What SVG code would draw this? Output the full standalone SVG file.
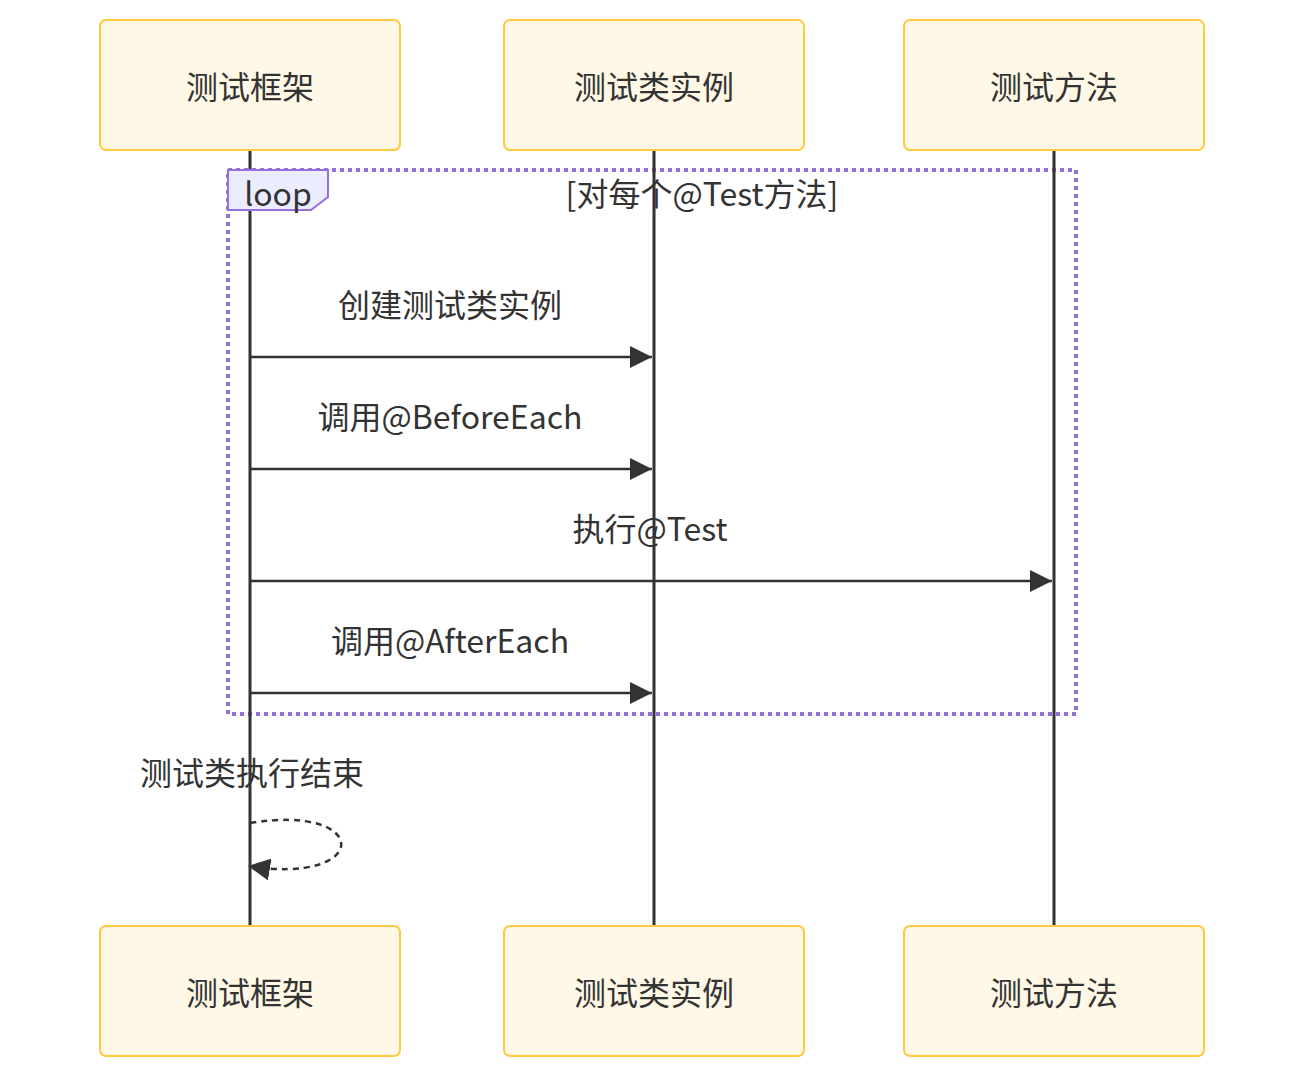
<svg xmlns="http://www.w3.org/2000/svg" width="1304" height="1078" viewBox="0 0 1304 1078">
<style>
.actor{fill:#fff8e6;stroke:#ffc940;stroke-width:2}
.lbl{font-family:"Noto Sans CJK SC","Noto Sans",sans-serif;font-size:32px;fill:#333;text-anchor:middle}
.life{stroke:#333;stroke-width:3}
.msg{stroke:#333;stroke-width:2.5;fill:none}
.loopbox{fill:none;stroke:#9370db;stroke-width:4;stroke-dasharray:4,4}
.looplbl{fill:#ececff;stroke:#9370db;stroke-width:2}
</style>
<defs>
<marker id="arrow" markerUnits="userSpaceOnUse" markerWidth="24" markerHeight="22" refX="22" refY="11" orient="auto">
<path d="M0,0 L22,11 L0,22 Z" fill="#333"/>
</marker>
</defs>
<rect class="loopbox" x="228" y="170" width="848" height="544"/>
<g id="lifelines">
<line class="life" x1="250" y1="150" x2="250" y2="926"/>
<line class="life" x1="654" y1="150" x2="654" y2="926"/>
<line class="life" x1="1054" y1="150" x2="1054" y2="926"/>
</g>
<g id="loop">
<polygon class="looplbl" points="228,170 328,170 328,197 311,210 228,210"/>
<text class="lbl" x="278" y="206">loop</text>
<text class="lbl" x="702" y="206">[对每个@Test方法]</text>
</g>
<g id="actor-top-1"><rect class="actor" x="100" y="20" width="300" height="130" rx="6"/><text class="lbl" x="250" y="99">测试框架</text></g>
<g id="actor-top-2"><rect class="actor" x="504" y="20" width="300" height="130" rx="6"/><text class="lbl" x="654" y="99">测试类实例</text></g>
<g id="actor-top-3"><rect class="actor" x="904" y="20" width="300" height="130" rx="6"/><text class="lbl" x="1054" y="99">测试方法</text></g>
<g id="actor-bottom-1"><rect class="actor" x="100" y="926" width="300" height="130" rx="6"/><text class="lbl" x="250" y="1005">测试框架</text></g>
<g id="actor-bottom-2"><rect class="actor" x="504" y="926" width="300" height="130" rx="6"/><text class="lbl" x="654" y="1005">测试类实例</text></g>
<g id="actor-bottom-3"><rect class="actor" x="904" y="926" width="300" height="130" rx="6"/><text class="lbl" x="1054" y="1005">测试方法</text></g>
<g id="connectors">
<line class="msg" x1="250" y1="357" x2="652" y2="357" marker-end="url(#arrow)"/>
<text class="lbl" x="450" y="317">创建测试类实例</text>
<line class="msg" x1="250" y1="469" x2="652" y2="469" marker-end="url(#arrow)"/>
<text class="lbl" x="450" y="429">调用@BeforeEach</text>
<line class="msg" x1="250" y1="581" x2="1052" y2="581" marker-end="url(#arrow)"/>
<text class="lbl" x="650" y="541">执行@Test</text>
<line class="msg" x1="250" y1="693" x2="652" y2="693" marker-end="url(#arrow)"/>
<text class="lbl" x="450" y="653">调用@AfterEach</text>
<path class="msg" d="M250,823 C372,803 372,886 248,866" stroke-dasharray="6,5" marker-end="url(#arrow)"/>
<text class="lbl" x="252" y="785">测试类执行结束</text>
</g>
</svg>
